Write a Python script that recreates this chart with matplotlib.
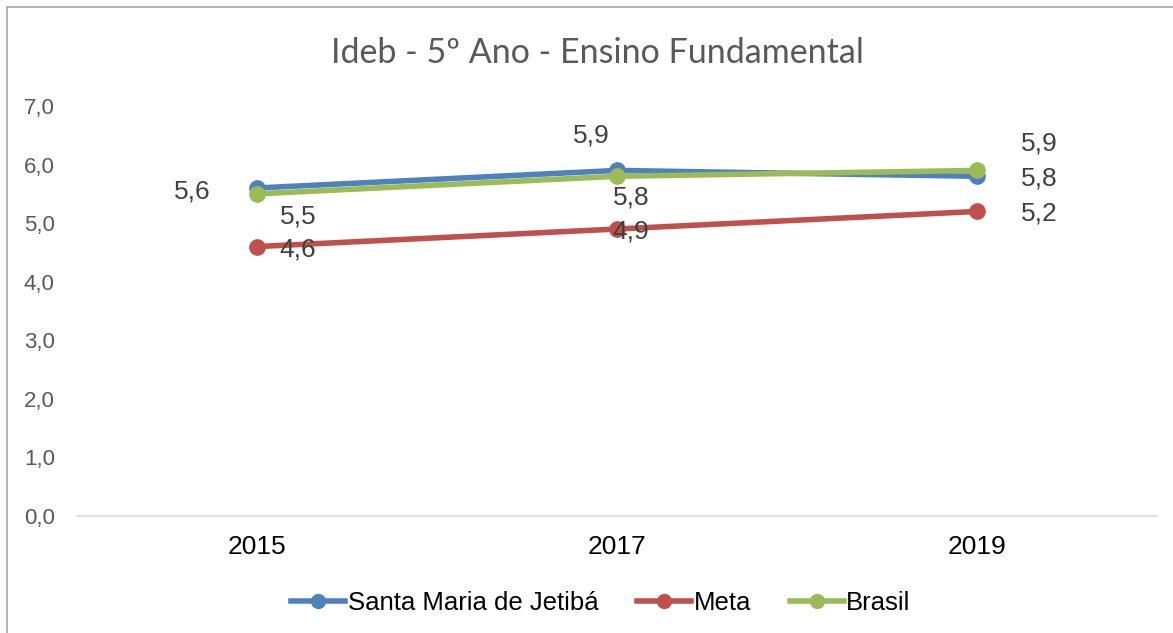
import matplotlib.pyplot as plt
from matplotlib.patches import Rectangle
from matplotlib.lines import Line2D

anos = ['2015', '2017', '2019']
santa_maria = [5.6, 5.9, 5.8]
meta = [4.6, 4.9, 5.2]
brasil = [5.5, 5.8, 5.9]
y_ticks = [0.0, 1.0, 2.0, 3.0, 4.0, 5.0, 6.0, 7.0]

# deslocamento dos rótulos (pixels)
off_sm = [(-65, -3), (-26, 35), (62, -2)]
off_br = [(41, -23), (14, -21), (62, 27)]
off_meta = [(41, -3), (14, -2), (62, -2)]

azul = '#4F81BD'
vermelho = '#C0504D'
verde = '#9BBB59'

plt.rcParams['font.family'] = ['Liberation Sans', 'DejaVu Sans']

fig = plt.figure(figsize=(11.73, 6.33), dpi=100)
W, H = 1173, 633
ax = fig.add_axes([77 / W, 1 - 516 / H, (1157 - 77) / W, (516 - 106) / H])

x = list(range(len(anos)))
series = [(santa_maria, azul, 'Santa Maria de Jetibá', off_sm),
          (meta, vermelho, 'Meta', off_meta),
          (brasil, verde, 'Brasil', off_br)]

for vals, cor, nome, offs in series:
    ax.plot(x, vals, color=cor, lw=4, marker='o', ms=11, label=nome,
            solid_capstyle='round', zorder=3)
    for xi, v, off in zip(x, vals, offs):
        ax.annotate(f'{v:.1f}'.replace('.', ','), (xi, v), xytext=off,
                    textcoords='offset pixels', ha='center', va='center',
                    fontsize=19, color='#404040')

ax.set_xlim(-0.5, 2.5)
ax.set_ylim(0, 7)
ax.set_xticks(x)
ax.set_xticklabels(anos, fontsize=19, color='black')
ax.set_yticks(y_ticks)
ax.set_yticklabels([f'{t:.1f}'.replace('.', ',') for t in y_ticks],
                   fontsize=16, color='#595959')
ax.tick_params(length=0, axis='x', pad=14)
ax.tick_params(length=0, axis='y', pad=16)
for s in ['top', 'right', 'left']:
    ax.spines[s].set_visible(False)
ax.spines['bottom'].set_color('#D9D9D9')
ax.spines['bottom'].set_linewidth(1.2)

fig.text(597 / W, 1 - 53 / H, 'Ideb - 5º Ano - Ensino Fundamental',
         ha='center', va='center', fontsize=24.5, color='#595959',
         family=['Lato', 'DejaVu Sans'])

handles = [Line2D([0], [0], color=c, lw=4, marker='o', ms=10) for c in (azul, vermelho, verde)]
fig.legend(handles, ['Santa Maria de Jetibá', 'Meta', 'Brasil'], loc='center',
           bbox_to_anchor=(601 / W, 1 - 603 / H), ncol=3, frameon=False,
           fontsize=18.5, handlelength=2.1, handletextpad=0.1, columnspacing=1.5)

fig.patches.append(Rectangle((7 / W, -0.1), 1.2, 1 - 7.5 / H + 0.1, transform=fig.transFigure,
                             fill=False, edgecolor='#A6A6A6', lw=1.2))

fig.savefig('out.png', dpi=100)
